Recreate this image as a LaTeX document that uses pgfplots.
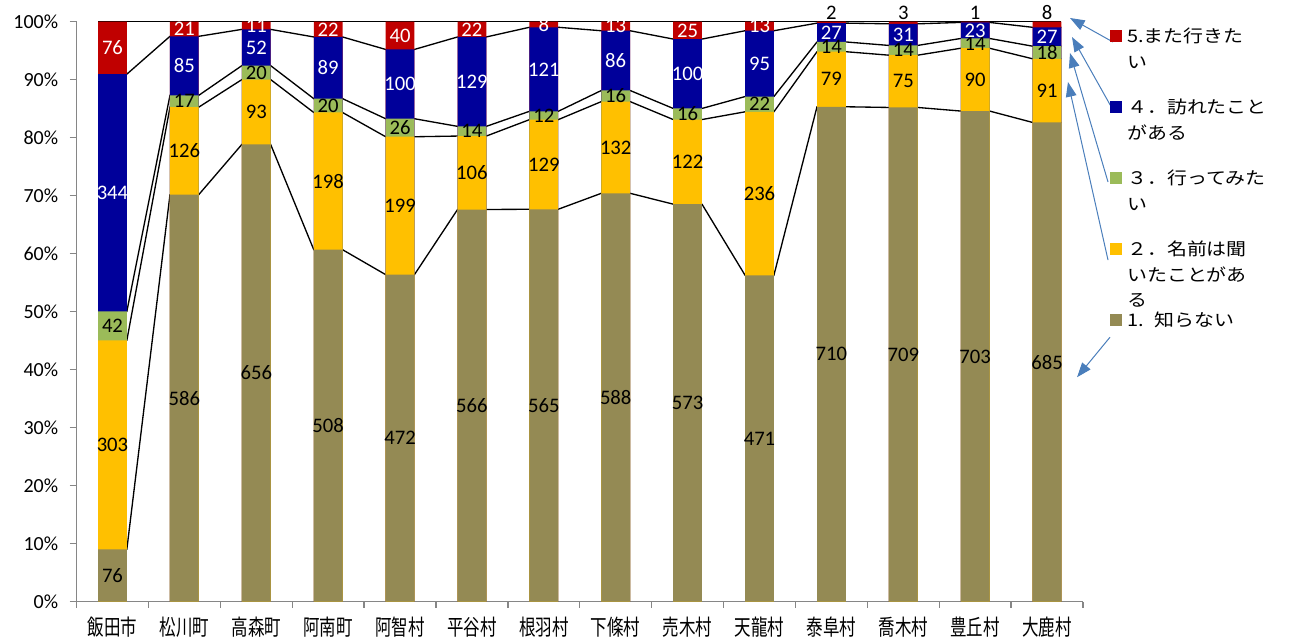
\documentclass[border=0pt]{standalone}
\usepackage{fontspec}
\setmainfont{Carlito}
\newfontfamily\jp{Noto Sans CJK JP}
\newfontfamily\jpcat[FakeStretch=0.75]{Noto Sans CJK JP}
\newfontfamily\jpleg[FakeStretch=1.15]{Noto Sans CJK JP}
\usepackage{pgfplots}
\usepackage{pgfplotstable}
\pgfplotsset{compat=1.18}
\usetikzlibrary{arrows.meta}

\definecolor{cA}{HTML}{948A54}
\definecolor{cB}{HTML}{FFC000}
\definecolor{cC}{HTML}{9BBB59}
\definecolor{cD}{HTML}{00009A}
\definecolor{cE}{HTML}{C00000}
\definecolor{axgray}{HTML}{868686}
\definecolor{arrowblue}{HTML}{4A7EBB}

% counts: s1 = 知らない ... s5 = また行きたい
\pgfplotstableread{
i s1 s2 s3 s4 s5
0 76 303 42 344 76
1 586 126 17 85 21
2 656 93 20 52 11
3 508 198 20 89 22
4 472 199 26 100 40
5 566 106 14 129 22
6 565 129 12 121 8
7 588 132 16 86 13
8 573 122 16 100 25
9 471 236 22 95 13
10 710 79 14 27 2
11 709 75 14 31 3
12 703 90 14 23 1
13 685 91 18 27 8
}\data

% series lines: corner to corner between neighbouring bars
\gdef\lnA{}\gdef\lnB{}\gdef\lnC{}\gdef\lnD{}\gdef\lnE{}
\foreach \r in {0,...,13}{%
  \pgfplotstablegetelem{\r}{s1}\of\data\let\nA\pgfplotsretval
  \pgfplotstablegetelem{\r}{s2}\of\data\let\nB\pgfplotsretval
  \pgfplotstablegetelem{\r}{s3}\of\data\let\nC\pgfplotsretval
  \pgfplotstablegetelem{\r}{s4}\of\data\let\nD\pgfplotsretval
  \pgfplotstablegetelem{\r}{s5}\of\data\let\nE\pgfplotsretval
  \pgfmathsetmacro\total{\nA+\nB+\nC+\nD+\nE}%
  \pgfmathsetmacro\cA{\nA/\total*100}%
  \pgfmathsetmacro\cB{(\nA+\nB)/\total*100}%
  \pgfmathsetmacro\cC{(\nA+\nB+\nC)/\total*100}%
  \pgfmathsetmacro\cD{(\nA+\nB+\nC+\nD)/\total*100}%
  \pgfmathsetmacro\cE{(\nA+\nB+\nC+\nD+\nE)/\total*100}%
  \pgfmathsetmacro\xa{\r-0.2}%
  \pgfmathsetmacro\xb{\r+0.2}%
  \xdef\lnA{\lnA(\xa,\cA)(\xb,\cA)}%
  \xdef\lnB{\lnB(\xa,\cB)(\xb,\cB)}%
  \xdef\lnC{\lnC(\xa,\cC)(\xb,\cC)}%
  \xdef\lnD{\lnD(\xa,\cD)(\xb,\cD)}%
  \xdef\lnE{\lnE(\xa,\cE)(\xb,\cE)}%
}

\newcommand\tot{(\thisrow{s1}+\thisrow{s2}+\thisrow{s3}+\thisrow{s4}+\thisrow{s5})}
\newcommand\serline[1]{\edef\tmp{\noexpand\addplot[serline] coordinates {#1};}\tmp}
\newcommand\legtext[1]{\smash{\raisebox{-0.38em}{\parbox[t]{5cm}{\raggedright #1}}}}

\pgfplotsset{
  bars/.style={ybar, bar width=0.4, bar shift=0pt, draw=none, fill=#1,
    legend image code/.code={\fill[##1] (0pt,-4.5pt) rectangle (9pt,4.5pt);}},
  serline/.style={black, line width=1pt, forget plot, mark=none, sharp plot},
  lbl/.style={only marks, mark=none, forget plot, nodes near coords, point meta=explicit,
    every node near coord/.append style={anchor=center, inner sep=0pt,
      font=\fontsize{15.5}{18}\selectfont, text=#1}},
}
\tikzset{pointer/.style={arrowblue, line width=0.75pt, -{Triangle[length=11pt,width=8pt]}}}

\begin{document}
\begin{tikzpicture}
\begin{axis}[
  name=ax,
  scale only axis, width=754.9pt, height=435pt,
  xmin=-0.5, xmax=13.5, ymin=0, ymax=100,
  axis lines*=left,
  axis line style={draw=axgray, line width=1pt},
  tick align=outside,
  xtick={0,...,13},
  xticklabels={飯田市,松川町,高森町,阿南町,阿智村,平谷村,根羽村,下條村,売木村,天龍村,泰阜村,喬木村,豊丘村,大鹿村},
  minor xtick={-0.5,0.5,...,13.5},
  major x tick style={draw=none},
  minor x tick style={draw=axgray, line width=1pt},
  minor tick length=4.5pt,
  ytick={0,10,...,100},
  yticklabel={\pgfmathprintnumber{\tick}\%},
  ytick style={draw=axgray, line width=1pt},
  major tick length=5.25pt,
  /pgf/number format/assume math mode=true,
  y tick label style={font=\fontsize{15}{18}\selectfont, xshift=-5pt},
  x tick label style={font=\jpcat\fontsize{16.5}{20}\selectfont, yshift=-3pt},
  clip=false,
  legend cell align=left,
  legend style={at={(1.0268,0.9857)}, anchor=north west, draw=none, fill=none,
    inner sep=0pt, row sep=44.25pt, column sep=3.75pt,
    nodes={inner sep=0pt, text depth=0pt, text height=0pt},
    font=\jpleg\fontsize{13}{19}\selectfont},
]
% series lines (behind the bars)
\serline{\lnA}
\serline{\lnB}
\serline{\lnC}
\serline{\lnD}
\serline{\lnE}

% cumulative bars, drawn from the top share down
\addplot[bars=cE] table[x=i, y expr={(\thisrow{s1}+\thisrow{s2}+\thisrow{s3}+\thisrow{s4}+\thisrow{s5})/\tot*100}] {\data};
\addlegendentry{\legtext{5.また行きた\\い}}
\addplot[bars=cD] table[x=i, y expr={(\thisrow{s1}+\thisrow{s2}+\thisrow{s3}+\thisrow{s4})/\tot*100}] {\data};
\addlegendentry{\legtext{４．訪れたこと\\がある}}
\addplot[bars=cC] table[x=i, y expr={(\thisrow{s1}+\thisrow{s2}+\thisrow{s3})/\tot*100}] {\data};
\addlegendentry{\legtext{３．行ってみた\\い}}
\addplot[bars=cB] table[x=i, y expr={(\thisrow{s1}+\thisrow{s2})/\tot*100}] {\data};
\addlegendentry{\legtext{２．名前は聞\\いたことがあ\\る}}
\addplot[bars=cA] table[x=i, y expr={\thisrow{s1}/\tot*100}] {\data};
\addlegendentry{\legtext{1.\hspace{0.6em}知らない}}

% value labels
\addplot[lbl=black] table[x=i, y expr={0.5*\thisrow{s1}/\tot*100}, meta=s1] {\data};
\addplot[lbl=black] table[x=i, y expr={(\thisrow{s1}+0.5*\thisrow{s2})/\tot*100}, meta=s2] {\data};
\addplot[lbl=black] table[x=i, y expr={(\thisrow{s1}+\thisrow{s2}+0.5*\thisrow{s3})/\tot*100}, meta=s3] {\data};
\addplot[lbl=white] table[x=i, y expr={(\thisrow{s1}+\thisrow{s2}+\thisrow{s3}+0.5*\thisrow{s4})/\tot*100}, meta=s4] {\data};
\addplot[lbl=white, restrict x to domain=-1:9.5] table[x=i, y expr={(\tot-0.5*\thisrow{s5})/\tot*100}, meta=s5] {\data};
\addplot[lbl=black, restrict x to domain=9.5:14,
  every node near coord/.append style={anchor=south, yshift=1.5pt}]
  table[x=i, y expr={\tot/\tot*100}, meta=s5] {\data};

% pointer arrows from the legend
\draw[pointer] (axis cs:13.917,96.5) -- (axis cs:13.319,100.64);
\draw[pointer] (axis cs:13.917,84.78) -- (axis cs:13.347,97.36);
\draw[pointer] (axis cs:13.848,72.36) -- (axis cs:13.319,94.6);
\draw[pointer] (axis cs:13.848,58.9) -- (axis cs:13.291,89.6);
\draw[pointer] (axis cs:13.875,45.6) -- (axis cs:13.417,38.7);
\end{axis}
\pgfresetboundingbox
\path[use as bounding box] ([xshift=-57.4pt, yshift=-31.7pt]ax.south west) rectangle ([xshift=156.75pt, yshift=16.3pt]ax.north east);
\end{tikzpicture}
\end{document}
